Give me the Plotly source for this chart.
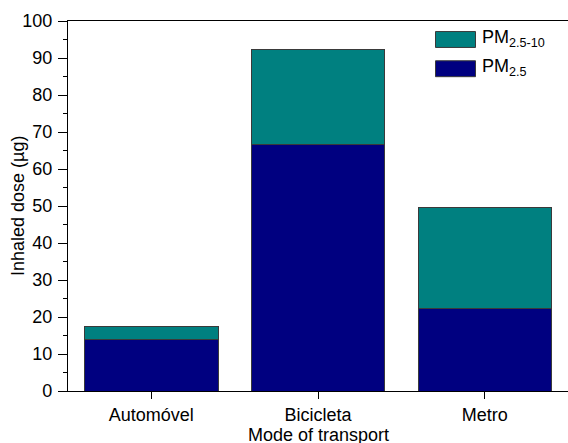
import plotly.graph_objects as go

# Inhaled dose by mode of transport (µg)
modes = ["Automóvel", "Bicicleta", "Metro"]
pm25 = [14.0, 66.6, 22.3]
pm25_10 = [3.3, 25.6, 27.2]

y_ticks = [0, 10, 20, 30, 40, 50, 60, 70, 80, 90, 100]

C_FINE = "#000080"
C_COARSE = "#008080"
FONT = "Liberation Sans, Arial, sans-serif"

fig = go.Figure()
fig.add_trace(go.Bar(
    x=modes, y=pm25, name="PM<sub>2.5</sub>",
    marker=dict(color=C_FINE, line=dict(color="#3a3a3a", width=1)),
    width=0.8, showlegend=False,
))
fig.add_trace(go.Bar(
    x=modes, y=pm25_10, name="PM<sub>2.5-10</sub>",
    marker=dict(color=C_COARSE, line=dict(color="#3a3a3a", width=1)),
    width=0.8, showlegend=False,
))

# legend drawn as swatches + labels in paper coordinates
legend_items = [("PM<sub>2.5-10</sub>", C_COARSE, 0.950), ("PM<sub>2.5</sub>", C_FINE, 0.871)]
for label, color, yc in legend_items:
    fig.add_shape(type="rect", xref="paper", yref="paper",
                  x0=0.735, x1=0.815, y0=yc - 0.0215, y1=yc + 0.0215,
                  fillcolor=color, line=dict(color="#3a3a3a", width=1))
    fig.add_annotation(xref="paper", yref="paper", x=0.824, y=yc + 0.004,
                       xanchor="left", yanchor="middle", showarrow=False,
                       text=label, font=dict(family=FONT, size=18, color="black"))

# axis titles as annotations, positioned close to the tick labels
fig.add_annotation(xref="paper", yref="paper", x=-0.1, y=0.5,
                   xanchor="center", yanchor="middle", textangle=-90,
                   showarrow=False, text="Inhaled dose (µg)",
                   font=dict(family=FONT, size=18, color="black"))
fig.add_annotation(xref="paper", yref="paper", x=0.5, y=-0.12,
                   xanchor="center", yanchor="middle",
                   showarrow=False, text="Mode of transport",
                   font=dict(family=FONT, size=18, color="black"))

fig.update_layout(
    barmode="stack",
    width=568, height=443,
    margin=dict(l=68, r=0, t=21, b=52),
    paper_bgcolor="white", plot_bgcolor="white",
    font=dict(family=FONT, size=18, color="black"),
    bargap=0.2,
)
fig.update_xaxes(
    range=[-0.5, 2.5], automargin=False,
    showline=True, linecolor="black", linewidth=1.3, mirror=True,
    ticks="outside", ticklen=7, tickwidth=1.3, tickcolor="black",
    showgrid=False, zeroline=False,
    tickfont=dict(family=FONT, size=18),
)
fig.update_yaxes(
    range=[0, 100], automargin=False,
    tickvals=y_ticks,
    showline=True, linecolor="black", linewidth=1.3, mirror=False,
    ticks="outside", ticklen=9, tickwidth=1.3, tickcolor="black",
    ticklabelstandoff=2,
    minor=dict(dtick=5, ticks="outside", ticklen=4, tickwidth=1.3, tickcolor="black"),
    showgrid=False, zeroline=False,
    tickfont=dict(family=FONT, size=18),
)

fig.write_html("out.html")
